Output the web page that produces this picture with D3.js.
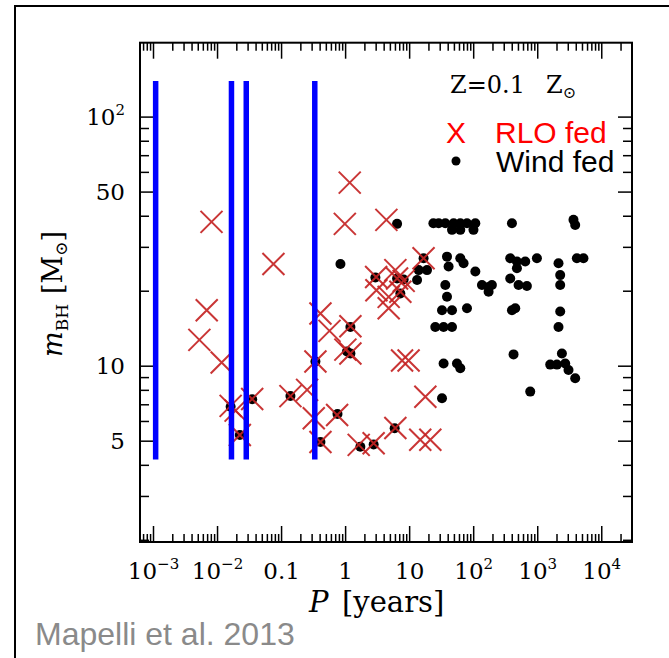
<!DOCTYPE html>
<html>
<head>
<meta charset="utf-8">
<script src="https://cdn.jsdelivr.net/npm/d3@7"></script>
<style>
  body { margin: 0; background: #fff; }
  .serif { font-family: "DejaVu Serif", serif; }
</style>
</head>
<body>
<svg></svg>
<script>
// RLO fed systems: orbital period P [years] and BH mass [Msun]
const rloP = [0.0082, 0.076, 0.0069, 0.0053, 0.0118, 0.0163, 0.0195, 0.0354, 0.140, 0.255,
              0.0227, 0.412, 0.57, 0.344, 0.324, 0.412, 0.75, 1.18, 0.99, 4.41,
              16.8, 3.05, 6.48, 8.21, 7.29, 3.08, 4.79, 4.79, 1.21, 1.01,
              1.21, 7.75, 9.8, 17.9, 6.09, 1.63, 2.79, 14.9, 21.4, 6.09];
const rloM = [37.8, 25.6, 16.7, 12.7, 10.3, 6.9, 6.6, 7.35, 7.55, 8.0,
              5.27, 16.2, 13.8, 10.4, 6.15, 4.94, 6.34, 54.3, 37.1, 38.5,
              27.0, 22.7, 22.4, 21.9, 19.8, 20.1, 18.9, 17.0, 14.4, 11.6,
              11.2, 10.5, 10.5, 7.51, 5.62, 4.81, 4.88, 5.04, 5.04, 24.2];

// wind fed systems
const windP = [0.0163, 0.0354, 0.0227, 0.140, 0.344, 0.412, 0.76, 1.21, 1.07, 1.21,
               1.73, 2.79, 5.94, 0.845, 6.48, 16.8, 2.97, 6.48, 8.21, 7.29,
               14.1, 19.0, 13.3, 34.5, 32.6,
               23.9, 28.9, 36.7, 49.5, 62.9, 80.0, 108, 46.7, 62.9, 101, 403, 3683, 3916,
               39.0, 62.9, 70.8, 41.3, 108, 379, 482, 650, 989, 482, 2150, 4160, 5272,
               36.7, 39.0, 137, 174, 196, 174, 379, 511, 690, 2285, 2285,
               32.6, 46.7, 80.0, 403, 454, 2285,
               25.6, 34.5, 46.7, 2150,
               427, 2428, 55.8, 62.9, 1596, 2030, 2735, 3078, 3916, 778];
const windM = [6.84, 7.33, 5.27, 7.56, 10.4, 4.94, 6.4, 14.3, 11.4, 11.2,
               4.73, 4.83, 5.61, 25.6, 37.1, 27.0, 22.6, 22.4, 22.2, 19.5,
               24.2, 24.2, 22.1, 10.2, 7.40,
               37.3, 37.3, 37.3, 37.3, 37.3, 37.3, 37.3, 35.1, 35.1, 35.1, 37.3, 38.5, 36.7,
               27.4, 27.0, 25.8, 25.0, 23.9, 27.0, 26.2, 26.2, 27.0, 24.6, 25.8, 27.0, 27.0,
               21.1, 18.9, 21.1, 20.7, 21.1, 19.8, 22.4, 21.1, 20.9, 23.1, 21.1,
               16.7, 16.7, 17.0, 16.7, 17.0, 16.5,
               14.3, 14.3, 14.3, 14.3,
               11.1, 11.2, 10.2, 9.76, 10.1, 10.1, 10.2, 9.61, 8.90, 7.87];

// blue vertical lines
const vlineP = [0.0011, 0.0168, 0.0286, 0.336];
const vlineM = [4.2, 139];

// ticks
const xTicks = [1e-3, 1e-2, 0.1, 1, 10, 1e2, 1e3, 1e4];
const xTickLabels = [["10", "−3"], ["10", "−2"], ["0.1"], ["1"], ["10"], ["10", "2"], ["10", "3"], ["10", "4"]];
const yTicks = [5, 10, 50, 100];
const yTickLabels = [["5"], ["10"], ["50"], ["10", "2"]];

window.onload = function () {
    let width = 669, height = 658;
    let svg = d3.select("svg").attr("width", width).attr("height", height);

    let left = 140, right = 632, top = 42.7, bottom = 542;
    let x = d3.scaleLog().domain([Math.pow(10, -3.203), Math.pow(10, 4.48)]).range([left, right]);
    let y = d3.scaleLog().domain([1.96, 198]).range([bottom, top]);

    // outer frame of the slide
    svg.append("rect").attr("x", 15).attr("y", 6).attr("width", 700).attr("height", 700)
        .attr("fill", "none").attr("stroke", "#000").attr("stroke-width", 2);

    // minor tick values (2..9 of each decade)
    let xMinor = [], yMinor = [];
    for (let e = -4; e <= 4; e++) {
        for (let k = 2; k <= 9; k++) {
            let v = k * Math.pow(10, e);
            if (x(v) > left + 1 && x(v) < right - 1) xMinor.push(v);
        }
    }
    for (let e = 0; e <= 2; e++) {
        for (let k = 2; k <= 9; k++) {
            let v = k * Math.pow(10, e);
            if (y(v) < bottom - 1 && y(v) > top + 1 && yTicks.indexOf(v) < 0) yMinor.push(v);
        }
    }

    function tickAxis(axis, tx, ty) {
        let g = svg.append("g").attr("transform", "translate(" + tx + "," + ty + ")").call(axis);
        g.select(".domain").remove();
        g.selectAll("line").attr("stroke", "#000").attr("stroke-width", 1.5);
        return g;
    }

    // x axis: bottom (with labels) and top
    tickAxis(d3.axisBottom(x).tickValues(xMinor).tickSize(-8).tickSizeOuter(0).tickFormat(""), 0, bottom);
    tickAxis(d3.axisTop(x).tickValues(xMinor).tickSize(-8).tickSizeOuter(0).tickFormat(""), 0, top);
    tickAxis(d3.axisTop(x).tickValues(xTicks).tickSize(-16).tickSizeOuter(0).tickFormat(""), 0, top);
    let xg = tickAxis(d3.axisBottom(x).tickValues(xTicks).tickSize(-16).tickSizeOuter(0)
        .tickFormat(function (d, i) { return ""; }), 0, bottom);
    xg.selectAll(".tick text").each(function (d, i) {
        let t = d3.select(this).attr("y", 37).attr("dy", null)
            .attr("class", "serif").attr("font-size", 23).attr("fill", "#000");
        let lab = xTickLabels[i];
        t.append("tspan").text(lab[0]);
        if (lab.length > 1) t.append("tspan").attr("dy", -10).attr("font-size", 15).text(lab[1]);
    });

    // y axis: left (with labels) and right
    tickAxis(d3.axisLeft(y).tickValues(yMinor).tickSize(-9).tickSizeOuter(0).tickFormat(""), left, 0);
    tickAxis(d3.axisRight(y).tickValues(yMinor).tickSize(-9).tickSizeOuter(0).tickFormat(""), right, 0);
    tickAxis(d3.axisRight(y).tickValues(yTicks).tickSize(-14).tickSizeOuter(0).tickFormat(""), right, 0);
    let yg = tickAxis(d3.axisLeft(y).tickValues(yTicks).tickSize(-14).tickPadding(15).tickSizeOuter(0)
        .tickFormat(function () { return ""; }), left, 0);
    yg.selectAll(".tick text").each(function (d, i) {
        let t = d3.select(this).attr("dy", "0.36em")
            .attr("class", "serif").attr("font-size", 23).attr("fill", "#000");
        let lab = yTickLabels[i];
        t.append("tspan").text(lab[0]);
        if (lab.length > 1) t.append("tspan").attr("dy", -10).attr("font-size", 15).text(lab[1]);
    });

    // plot frame
    svg.append("rect").attr("x", left).attr("y", top).attr("width", right - left).attr("height", bottom - top)
        .attr("fill", "none").attr("stroke", "#000").attr("stroke-width", 2);

    // wind fed points
    let windData = windP.map(function (p, i) { return { p: p, m: windM[i] }; });
    svg.append("g").selectAll("circle").data(windData).enter().append("circle")
        .attr("cx", function (d) { return x(d.p); })
        .attr("cy", function (d) { return y(d.m); })
        .attr("r", 5)
        .attr("fill", "#000");

    // RLO fed points (crosses)
    let rloData = rloP.map(function (p, i) { return { p: p, m: rloM[i] }; });
    let s = 11;
    svg.append("g").selectAll("path").data(rloData).enter().append("path")
        .attr("transform", function (d) { return "translate(" + x(d.p) + "," + y(d.m) + ")"; })
        .attr("d", "M" + (-s) + "," + (-s) + "L" + s + "," + s + "M" + (-s) + "," + s + "L" + s + "," + (-s))
        .attr("stroke", "#c42424")
        .attr("stroke-opacity", 0.92)
        .attr("stroke-width", 2)
        .attr("fill", "none");

    // blue vertical lines
    svg.append("g").selectAll("line").data(vlineP).enter().append("line")
        .attr("x1", function (d) { return x(d); })
        .attr("x2", function (d) { return x(d); })
        .attr("y1", y(vlineM[0]))
        .attr("y2", y(vlineM[1]))
        .attr("stroke", "#0000ff")
        .attr("stroke-width", 5.5);

    // axis titles
    let xt = svg.append("text").attr("class", "serif").attr("font-size", 29).attr("y", 612);
    xt.append("tspan").attr("x", 309).attr("font-style", "italic").text("P");
    xt.append("tspan").attr("x", 342).text("[years]");

    let yt = svg.append("text").attr("class", "serif").attr("font-size", 27)
        .attr("transform", "translate(62,294) rotate(-90)").attr("text-anchor", "middle");
    yt.append("tspan").attr("font-style", "italic").text("m");
    yt.append("tspan").attr("font-size", 17).attr("dy", 6).text("BH");
    yt.append("tspan").attr("dy", -6).attr("dx", 10).text("[M");
    yt.append("tspan").attr("font-size", 17).attr("dy", 5).text("⊙");
    yt.append("tspan").attr("dy", -5).text("]");

    // annotation and legend
    let zt = svg.append("text").attr("class", "serif").attr("font-size", 24).attr("y", 93);
    zt.append("tspan").attr("x", 450).text("Z=0.1");
    zt.append("tspan").attr("x", 546).text("Z");
    zt.append("tspan").attr("font-size", 16).attr("dy", 5).text("⊙");

    svg.append("text").attr("x", 446).attr("y", 143).attr("font-family", "Liberation Sans, Arial, sans-serif")
        .attr("font-size", 30).attr("fill", "#ff0000").text("X");
    svg.append("text").attr("x", 495).attr("y", 143).attr("font-family", "Liberation Sans, Arial, sans-serif")
        .attr("font-size", 30).attr("fill", "#ff0000").text("RLO fed");
    svg.append("circle").attr("cx", 456).attr("cy", 161).attr("r", 4.5).attr("fill", "#000");
    svg.append("text").attr("x", 496).attr("y", 172).attr("font-family", "Liberation Sans, Arial, sans-serif")
        .attr("font-size", 30).attr("fill", "#000").text("Wind fed");

    // source
    svg.append("text").attr("x", 35).attr("y", 645).attr("font-family", "Liberation Sans, Arial, sans-serif")
        .attr("font-size", 32).attr("fill", "#8a8a8a").text("Mapelli et al. 2013");
};
</script>
</body>
</html>
